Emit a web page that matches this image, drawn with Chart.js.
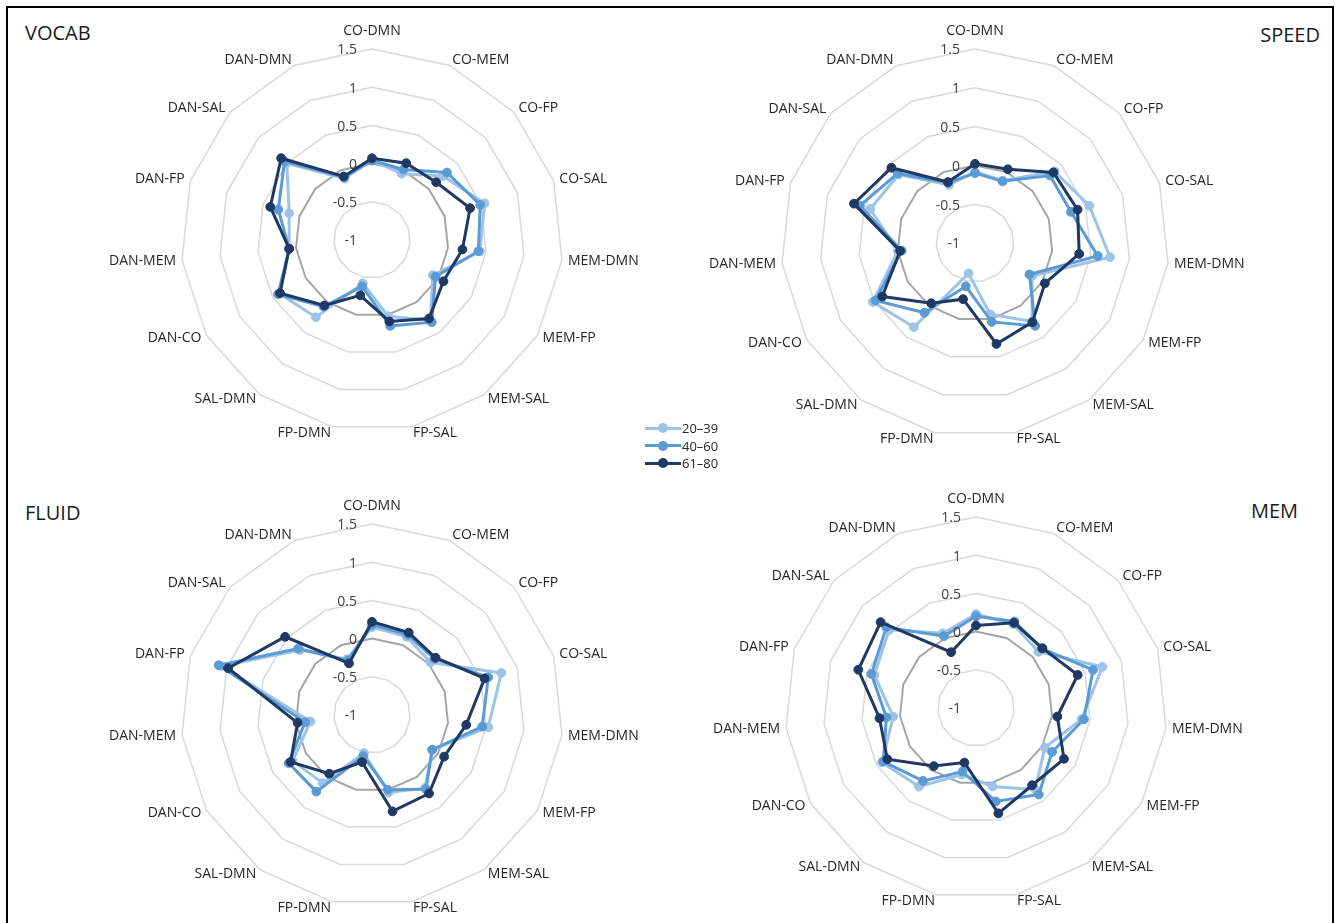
<!DOCTYPE html>
<html><head><meta charset="utf-8">
<script src="https://cdn.jsdelivr.net/npm/chart.js@4.4.1/dist/chart.umd.min.js"></script>
<style>
html,body{margin:0;padding:0;width:1335px;height:923px;overflow:hidden;background:#fff;font-family:"Open Sans",sans-serif;}
#frame{position:absolute;left:6px;top:6px;width:1324px;height:1000px;border:2px solid #000;}
.title{position:absolute;font-size:20px;color:#1a1a1a;line-height:24px;white-space:nowrap;}
canvas{position:absolute;}
.lg{position:absolute;height:16px;font-size:13px;color:#262626;line-height:16px;white-space:nowrap;}
.lg i{position:absolute;left:0;top:6.5px;width:36px;height:3px;}
.lg b{position:absolute;left:13px;top:3px;width:10px;height:10px;border-radius:50%;}
.lg span{position:absolute;left:37px;top:0;}
</style></head><body>
<div id="frame"></div>
<div class="title" style="left:25px;top:21px;">VOCAB</div>
<div class="title" style="right:15px;top:23px;">SPEED</div>
<div class="title" style="left:25px;top:501px;">FLUID</div>
<div class="title" style="right:37px;top:499px;">MEM</div>
<canvas id="c1"></canvas><canvas id="c2"></canvas><canvas id="c3"></canvas><canvas id="c4"></canvas>
<div id="legend"></div>
<script>
const categories = ['CO-DMN','CO-MEM','CO-FP','CO-SAL','MEM-DMN','MEM-FP','MEM-SAL','FP-SAL','FP-DMN','SAL-DMN','DAN-CO','DAN-MEM','DAN-FP','DAN-SAL','DAN-DMN'];
const seriesNames = ['20–39','40–60','61–80'];
const seriesColors = ['#9DC3E6','#5B9BD5','#1F3864'];
const tickValues = [-1,-0.5,0,0.5,1,1.5];
const tickLabels = ['-1','-0.5','0','0.5','1','1.5'];

const vocab20 = [0.05,-0.05,0.25,0.55,0.42,-0.08,0.30,0.02,-0.42,0.25,0.40,0.09,0.14,0.50,-0.12];
const vocab40 = [0.04,0.01,0.32,0.49,0.40,-0.04,0.33,0.15,-0.38,0.08,0.42,0.09,0.29,0.54,-0.10];
const vocab61 = [0.07,0.10,0.13,0.35,0.19,0.08,0.27,0.09,-0.26,0.06,0.39,0.09,0.40,0.60,-0.09];

const speed20 = [-0.08,-0.12,0.38,0.55,0.75,-0.15,0.25,-0.06,-0.60,0.34,0.52,0.00,0.42,0.32,-0.18];
const speed40 = [-0.10,-0.13,0.30,0.30,0.59,-0.19,0.32,0.04,-0.43,0.11,0.48,-0.05,0.56,0.34,-0.15];
const speed61 = [0.02,0.04,0.36,0.39,0.35,0.04,0.26,0.33,-0.26,-0.04,0.38,-0.03,0.64,0.45,-0.14];

const fluid20 = [0.15,0.12,0.03,0.78,0.53,-0.09,0.18,0.04,-0.49,0.10,0.20,-0.19,1.07,0.27,-0.20];
const fluid40 = [0.18,0.15,0.10,0.60,0.45,-0.09,0.20,0.00,-0.45,0.24,0.26,-0.12,1.11,0.30,-0.22];
const fluid61 = [0.22,0.18,0.12,0.55,0.24,0.09,0.27,0.29,-0.37,-0.05,0.23,-0.02,0.98,0.53,-0.26];

const mem20 = [0.23,0.20,0.10,0.74,0.39,0.04,0.32,0.05,-0.11,0.27,0.42,0.09,0.40,0.53,0.07];
const mem40 = [0.20,0.24,0.16,0.61,0.42,0.15,0.40,0.25,-0.15,0.18,0.40,0.18,0.44,0.58,0.03];
const mem61 = [0.08,0.22,0.17,0.40,0.07,0.33,0.25,0.41,-0.27,-0.06,0.34,0.27,0.62,0.68,-0.20];

const labelPlugin = {
  id: 'excelLabels',
  afterDraw(chart) {
    const s = chart.scales.r, ctx = chart.ctx;
    ctx.save();
    ctx.font = '14px "Open Sans"';
    ctx.textBaseline = 'middle';
    ctx.textAlign = 'right';
    ctx.fillStyle = '#404040';
    tickValues.forEach((v, k) => {
      const d = s.getDistanceFromCenterForValue(v);
      ctx.fillText(tickLabels[k], s.xCenter - 15, s.yCenter - d + 1.5);
    });
    ctx.fillStyle = '#262626';
    chart.data.labels.forEach((lab, i) => {
      const dist = s.drawingArea + 6;
      const p = s.getPointPosition(i, dist);
      const dx = (p.x - s.xCenter) / dist;
      let y = p.y;
      if (Math.abs(dx) < 0.05) { ctx.textAlign = 'center'; y = p.y - 12; }
      else ctx.textAlign = dx > 0 ? 'left' : 'right';
      ctx.fillText(lab, p.x, y);
    });
    ctx.restore();
  }
};

function makeChart(id, cx, cy, R, d20, d40, d61) {
  const PX = 110, PT = 50, PB = 40;
  const c = document.getElementById(id);
  const w = 2 * R + 2 * PX, h = 2 * R + PT + PB;
  c.width = w; c.height = h;
  c.style.width = w + 'px'; c.style.height = h + 'px';
  c.style.left = (cx - R - PX) + 'px';
  c.style.top = (cy - R - PT) + 'px';
  const sets = [d20, d40, d61];
  new Chart(c, {
    type: 'radar',
    data: {
      labels: categories,
      datasets: sets.map((d, k) => ({
        label: seriesNames[k], data: d,
        borderColor: seriesColors[k], backgroundColor: seriesColors[k],
        pointBackgroundColor: seriesColors[k], pointBorderColor: seriesColors[k],
        borderWidth: 3, pointRadius: 4.4, pointBorderWidth: 1,
        fill: false, tension: 0, order: 2 - k
      }))
    },
    options: {
      responsive: false, animation: false, devicePixelRatio: 1,
      layout: { padding: { left: PX, right: PX, top: PT, bottom: PB } },
      plugins: { legend: { display: false }, tooltip: { enabled: false } },
      scales: {
        r: {
          min: -1, max: 1.5,
          afterBuildTicks: sc => { sc.ticks = tickValues.map(v => ({ value: v })); },
          ticks: { display: false, stepSize: 0.5 },
          pointLabels: { display: false },
          angleLines: { display: false },
          grid: {
            color: ctx => (ctx.tick && ctx.tick.value === 0) ? '#A6A6A6' : '#D9D9D9',
            lineWidth: ctx => (ctx.tick && ctx.tick.value === 0) ? 2 : 1.5
          }
        }
      }
    },
    plugins: [labelPlugin]
  });
}

makeChart('c1', 372, 240, 191, vocab20, vocab40, vocab61);
makeChart('c2', 975, 243, 194, speed20, speed40, speed61);
makeChart('c3', 372, 715, 191, fluid20, fluid40, fluid61);
makeChart('c4', 976, 708, 191, mem20, mem40, mem61);

const lg = document.getElementById('legend');
seriesNames.forEach((n, k) => {
  const row = document.createElement('div');
  row.className = 'lg';
  row.style.left = '645px';
  row.style.top = (420 + k * 17.5) + 'px';
  row.innerHTML = '<i style="background:' + seriesColors[k] + '"></i><b style="background:' + seriesColors[k] + '"></b><span>' + n + '</span>';
  lg.appendChild(row);
});
</script>
</body></html>
